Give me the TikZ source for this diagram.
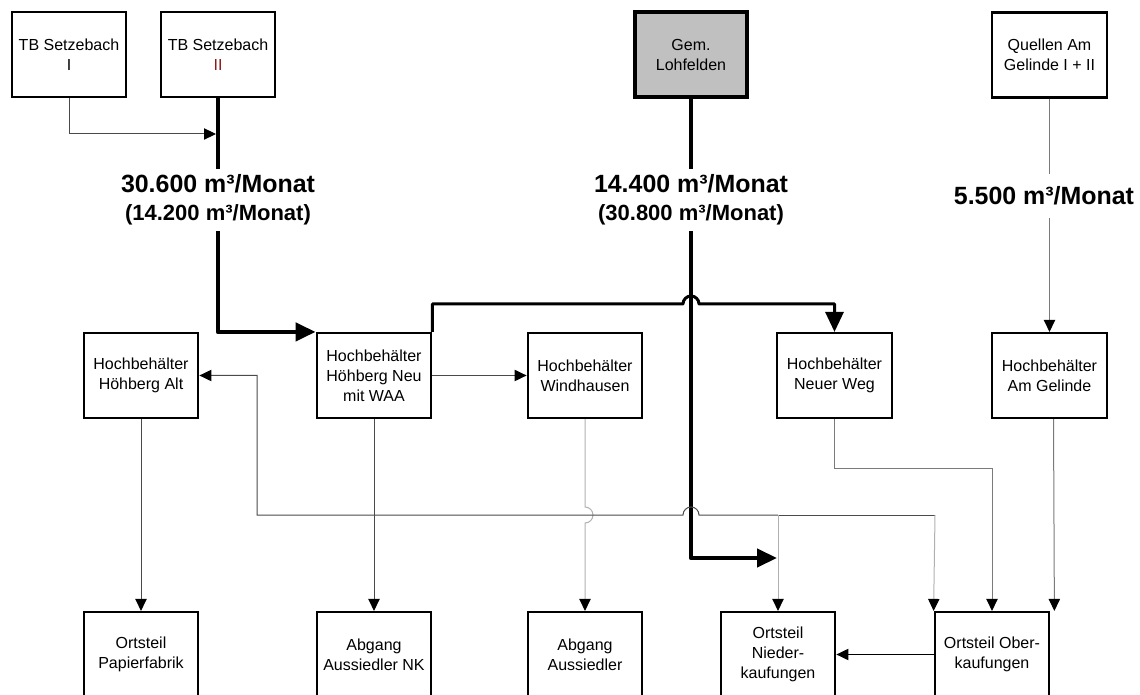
\documentclass[tikz,border=0pt]{standalone}
\usepackage{fontspec}
\setmainfont{Liberation Sans}
\usetikzlibrary{arrows.meta}
\definecolor{lgray}{HTML}{B0B0B0}
\definecolor{mgray}{HTML}{7A7A7A}
\definecolor{dgray}{HTML}{4A4A4A}
\definecolor{boxfill}{HTML}{C0C0C0}
\definecolor{darkred}{HTML}{8B1A1A}

\begin{document}
\begin{tikzpicture}[x=0.75pt,y=-0.75pt,
  box/.style={draw,line width=1.6pt,minimum width=86pt,minimum height=63.75pt,
    align=center,inner sep=1pt,font=\fontsize{12}{15}\selectfont},
  flow/.style={align=center,inner sep=0pt,minimum height=46.5pt,
    font=\bfseries\fontsize{18.7}{21}\selectfont},
  link/.style={draw=dgray,line width=0.75pt,-{Triangle[length=9pt,width=8.5pt,color=black]}},
  linkgray/.style={link,draw=mgray},
  linklight/.style={link,draw=lgray},
  main/.style={draw=black,line width=3.3pt,line join=round,-{Triangle[length=15pt,width=13.5pt]}}]
\useasboundingbox (0,0) rectangle (1140,695);

% sources
\node[box] (tb1) at (69,54.5) {TB Setzebach\\I};
\node[box] (tb2) at (218,54.5) {TB Setzebach\\\textcolor{darkred}{II}};
\node[box,line width=3pt,fill=boxfill,minimum width=84pt,minimum height=64pt] (lohf) at (691,54.5) {Gem.\\Lohfelden};
\node[box] (quel) at (1049.5,55) {Quellen Am\\Gelinde I + II};

% quantities
\node[flow] (lab1) at (218,200) {30.600 m³/Monat\\{\fontsize{16.5}{20}\selectfont (14.200 m³/Monat)}};
\node[flow] (lab2) at (691,200) {14.400 m³/Monat\\{\fontsize{16.5}{20}\selectfont (30.800 m³/Monat)}};
\node[flow,minimum height=32pt] (lab3) at (1044,196) {5.500 m³/Monat};

% reservoirs
\node[box] (halt) at (141,375.5) {Hochbehälter\\Höhberg Alt};
\node[box] (hneu) at (374,375.5) {Hochbehälter\\Höhberg Neu\\mit WAA};
\node[box] (wind) at (585,375.5) {Hochbehälter\\Windhausen};
\node[box] (nweg) at (834.5,375.5) {Hochbehälter\\Neuer Weg};
\node[box] (agel) at (1049.5,375.5) {Hochbehälter\\Am Gelinde};

% consumers
\node[box] (papf) at (141,654.5) {Ortsteil\\Papierfabrik};
\node[box] (ank) at (374,654.5) {Abgang\\Aussiedler NK};
\node[box] (aus) at (585,654.5) {Abgang\\Aussiedler};
\node[box] (nied) at (778,654.5) {Ortsteil\\Nieder-\\kaufungen};
\node[box] (ober) at (992,654.5) {Ortsteil Ober-\\kaufungen};

\coordinate (m1) at (216,134);
\coordinate (m2) at (777,558);
\coordinate (j) at (778,515);
\coordinate (k) at (935,515);

% main pipes
\draw[main,-] (tb2.south) -- (lab1.north);
\draw[main] (lab1.south) |- (hneu.north west);
\draw[main,-] (lohf.south) -- (lab2.north);
\draw[main] (lab2.south) |- (m2);
\draw[main,line width=2.25pt] (hneu.north east) |- (683,304)
  arc[start angle=180,end angle=0,radius=6pt] -| (nweg.north);
\draw[link] (tb1.south) |- (m1);
\draw[linkgray,-] (quel.south) -- (quel.south |- lab3.north);
\draw[linkgray] (quel.south |- lab3.south) -- (agel.north);

% distribution
\draw[link] (hneu.east) -- (wind.west);
\foreach \a/\b in {halt/papf,hneu/ank} {
  \draw[link] (\a.south) -- (\b.north);
}
\draw[linklight] (wind.south) -- (585,507)
  arc[start angle=90,end angle=-90,radius=6pt] -- (aus.north);
\draw[link,-] (j) -- (k);
\draw[link] (j) -- (699,515) arc[start angle=0,end angle=180,radius=6pt]
  -- (257,515) |- (halt.east);
\draw[linklight] (j) -- (nied.north);
\draw[linklight] (k) -- (ober.north west);
\draw[linkgray] (nweg.south) -- ++(0,49) -| (ober.north);
\draw[linkgray] ([xshift=3pt]agel.south) -- ([xshift=3pt]ober.north east);
\draw[link,draw=black] (ober.west) -- (nied.east);
\end{tikzpicture}
\end{document}
